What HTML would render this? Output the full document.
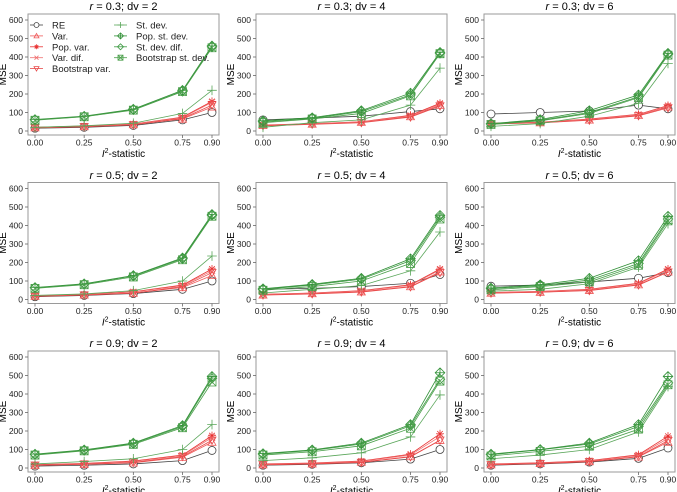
<!DOCTYPE html>
<html><head><meta charset="utf-8">
<style>
html,body{margin:0;padding:0;background:#fff;}
svg{display:block;font-family:"Liberation Sans",Arial,sans-serif;}
</style></head>
<body>
<svg id="chart" width="677" height="492" viewBox="0 0 677 492" xmlns="http://www.w3.org/2000/svg"></svg>
<script>
const xCategories = [0.00, 0.25, 0.50, 0.75, 0.90];
const xTickLabels = ["0.00","0.25","0.50","0.75","0.90"];
const yTickValues = [0,100,200,300,400,500,600];
const seriesNames = ["RE","Var.","Pop. var.","Var. dif.","Bootstrap var.","St. dev.","Pop. st. dev.","St. dev. dif.","Bootstrap st. dev."];
const panelTitles = [["0.3","2"],["0.3","4"],["0.3","6"],["0.5","2"],["0.5","4"],["0.5","6"],["0.9","2"],["0.9","4"],["0.9","6"]];
// each panel: 9 series x 5 points
const panel1 = [[15,20,30,60,100],[18,24,35,65,130],[20,27,38,75,160],[19,26,37,72,155],[17,23,33,68,140],[20,28,42,95,220],[62,80,118,220,460],[60,78,115,215,455],[58,77,113,213,450]];
const panel2 = [[60,70,80,105,120],[30,38,48,78,140],[32,40,50,85,150],[31,39,49,82,145],[28,36,45,75,135],[20,45,60,140,340],[55,72,110,205,425],[50,68,105,195,420],[45,65,95,190,418]];
const panel3 = [[92,100,108,140,120],[40,45,60,85,130],[42,48,65,90,138],[41,47,63,88,135],[38,44,58,82,125],[25,40,80,150,365],[40,62,110,195,420],[38,58,100,185,415],[35,55,95,180,410]];
const panel4 = [[15,22,32,55,100],[18,25,35,65,130],[20,28,42,78,165],[19,27,40,75,155],[17,24,34,70,145],[22,30,48,100,235],[65,85,130,225,460],[63,83,127,220,455],[60,80,122,215,450]];
const panel5 = [[55,60,70,88,135],[25,32,42,70,150],[28,35,48,80,165],[27,34,46,77,160],[24,30,40,68,145],[35,55,75,155,365],[58,82,115,220,455],[55,78,110,210,445],[50,70,100,195,435]];
const panel6 = [[72,78,95,115,145],[35,40,50,80,150],[38,44,55,88,165],[37,43,53,85,160],[34,39,48,78,148],[45,55,85,175,410],[62,80,115,210,450],[58,75,105,195,435],[52,70,95,185,425]];
const panel7 = [[10,15,22,40,95],[14,20,28,58,140],[18,25,38,70,175],[17,23,35,67,165],[15,21,30,62,150],[22,35,50,100,235],[75,98,135,230,495],[73,95,132,225,485],[70,93,128,218,465]];
const panel8 = [[15,20,28,48,100],[18,23,32,62,150],[22,27,38,75,185],[20,25,36,70,170],[17,22,30,60,150],[40,55,82,168,395],[78,98,135,235,515],[75,95,130,228,480],[70,88,120,215,470]];
const panel9 = [[15,22,32,52,108],[18,25,35,60,140],[22,28,40,72,172],[20,27,38,68,160],[17,24,34,62,148],[50,70,100,195,440],[75,100,135,235,495],[72,98,130,225,460],[65,90,118,210,450]];
const panels = [panel1,panel2,panel3,panel4,panel5,panel6,panel7,panel8,panel9];

const NS="http://www.w3.org/2000/svg";
const svg=document.getElementById('chart');
const colors=["#444","#ef5a5a","#e83030","#f07070","#e84a4a","#5aa65a","#2f8f35","#3d9a42","#4a9f4a"];
const markers=["circle","tri","star","x","tridown","plus","diamplus","diamond","boxx"];
const colLeft=[28,256,484], boxW=191, row0=[131,299.5,468], ySpan=111;
const titleY=[10,179,347];
function mk(tag,attrs,parent){const e=document.createElementNS(NS,tag);for(const k in attrs)e.setAttribute(k,attrs[k]);(parent||svg).appendChild(e);return e;}
function markerPath(type,x,y,s){
  switch(type){
    case "circle": return {tag:"circle",a:{cx:x,cy:y,r:s}};
    case "tri": return {tag:"path",a:{d:`M${x},${y-s}L${x+s},${y+s*0.8}L${x-s},${y+s*0.8}Z`}};
    case "tridown": return {tag:"path",a:{d:`M${x},${y+s}L${x+s},${y-s*0.8}L${x-s},${y-s*0.8}Z`}};
    case "star": return {tag:"path",a:{d:`M${x-s},${y}H${x+s}M${x},${y-s}V${y+s}M${x-s*0.7},${y-s*0.7}L${x+s*0.7},${y+s*0.7}M${x-s*0.7},${y+s*0.7}L${x+s*0.7},${y-s*0.7}`}};
    case "x": return {tag:"path",a:{d:`M${x-s*0.8},${y-s*0.8}L${x+s*0.8},${y+s*0.8}M${x-s*0.8},${y+s*0.8}L${x+s*0.8},${y-s*0.8}`}};
    case "plus": return {tag:"path",a:{d:`M${x-s*1.2},${y}H${x+s*1.2}M${x},${y-s*1.2}V${y+s*1.2}`}};
    case "diamplus": return {tag:"path",a:{d:`M${x},${y-s*1.2}L${x+s*1.2},${y}L${x},${y+s*1.2}L${x-s*1.2},${y}ZM${x-s*1.2},${y}H${x+s*1.2}M${x},${y-s*1.2}V${y+s*1.2}`}};
    case "diamond": return {tag:"path",a:{d:`M${x},${y-s*1.2}L${x+s*1.2},${y}L${x},${y+s*1.2}L${x-s*1.2},${y}Z`}};
    case "boxx": return {tag:"path",a:{d:`M${x-s},${y-s}H${x+s}V${y+s}H${x-s}ZM${x-s},${y-s}L${x+s},${y+s}M${x-s},${y+s}L${x+s},${y-s}`}};
  }
}
panels.forEach((data,p)=>{
  const c=p%3, r=Math.floor(p/3);
  const L=colLeft[c], y0=row0[r];
  const xS=v=>L+7+v/0.9*177;
  const yS=v=>y0-v/600*ySpan;
  const g=mk("g",{});
  
  
  const top=yS(600)-6, bot=y0+4;
  const box=mk("rect",{x:L,y:top,width:boxW,height:bot-top,fill:"none",stroke:"#9a9a9a","stroke-width":1},g);
  
  
  const t=mk("text",{x:L+boxW/2,y:titleY[r],"text-anchor":"middle","font-size":"11"},g);
  
  
  t.innerHTML=`<tspan font-style="italic">r</tspan> = ${panelTitles[p][0]}; dv = ${panelTitles[p][1]}`;
  yTickValues.forEach(v=>{
    mk("line",{x1:L-3,x2:L,y1:yS(v),y2:yS(v),stroke:"#666","stroke-width":0.8},g);
    const tl=mk("text",{x:L-5,y:yS(v)+3,"text-anchor":"end","font-size":"8.5",fill:"#222"},g);
    
    
    tl.textContent=v;
  });
  xCategories.forEach((v,i)=>{
    mk("line",{x1:xS(v),x2:xS(v),y1:bot,y2:bot+3,stroke:"#666","stroke-width":0.8},g);
    const tl=mk("text",{x:xS(v),y:bot+10.5,"text-anchor":"middle","font-size":"8.5",fill:"#222"},g);
    
    
    tl.textContent=xTickLabels[i];
  });
  const yt=mk("text",{x:0,y:0,"text-anchor":"middle","font-size":"10",transform:`translate(${L-22},${(top+bot)/2}) rotate(-90)`},g);
  
  
  yt.textContent="MSE";
  const xt=mk("text",{x:L+boxW/2,y:bot+22,"text-anchor":"middle","font-size":"10"},g);
  
  
  xt.innerHTML=`<tspan font-style="italic">I</tspan><tspan font-size="7" dy="-4">2</tspan><tspan dy="4">-statistic</tspan>`;
  data.forEach((vals,s)=>{
    const sg=mk("g",{stroke:colors[s],fill:"none","stroke-width":0.8},g);
    
    
    const pts=vals.map((v,i)=>xS(xCategories[i])+","+yS(v)).join(" ");
    mk("polyline",{points:pts},sg);
    vals.forEach((v,i)=>{
      const m=markerPath(markers[s],xS(xCategories[i]),yS(v),4);
      const el=mk(m.tag,m.a,sg);
      if(markers[s]==="circle") el.setAttribute('fill','#fff');
      
      
    });
  });
});
// legend in first panel
const lg=mk("g",{});


seriesNames.forEach((n,s)=>{
  const col=s<5?0:1, row=s<5?s:s-5;
  const lx=col?114:30, ly=25+row*10.9;
  const eg=mk("g",{stroke:colors[s],fill:"none","stroke-width":0.8},lg);
  
  
  mk("line",{x1:lx,x2:lx+13,y1:ly,y2:ly},eg);
  const m=markerPath(markers[s],lx+6.5,ly,2.5);
  const el=mk(m.tag,m.a,eg);
  if(markers[s]==="circle") el.setAttribute('fill','#fff');
  const tx=mk("text",{x:lx+22,y:ly+3.5,"font-size":"9.5",fill:"#222",stroke:"none"},eg);
  tx.textContent=n;
});
</script>
</body></html>
